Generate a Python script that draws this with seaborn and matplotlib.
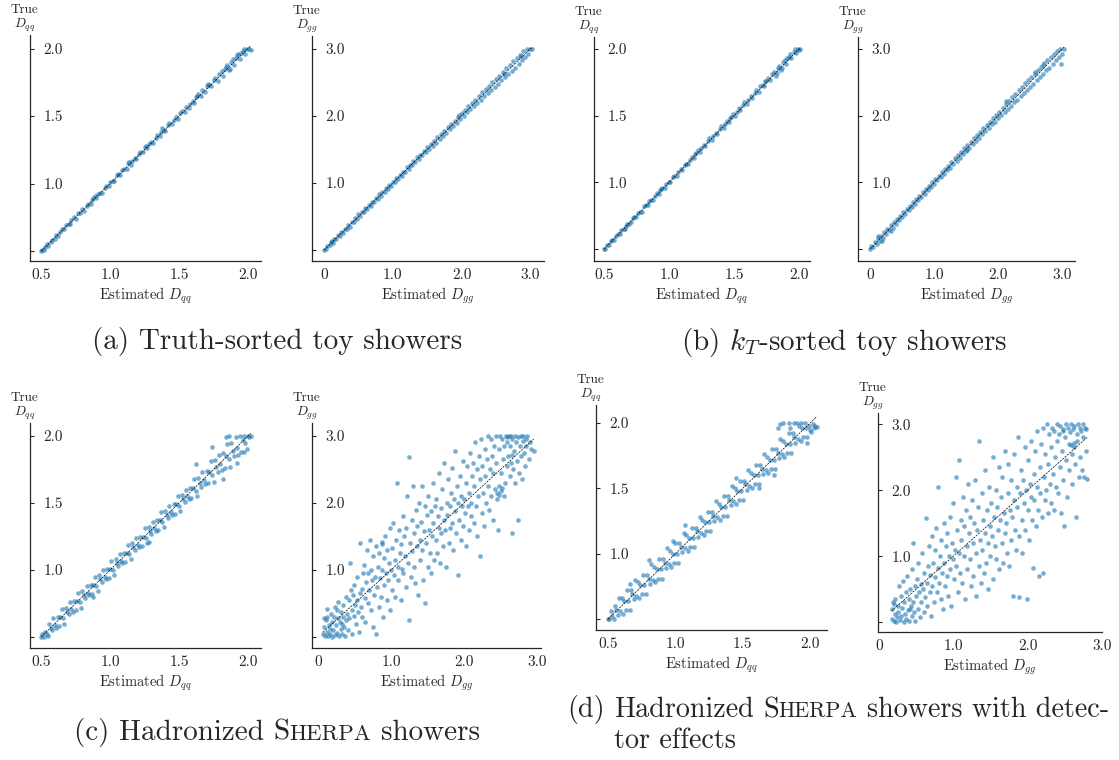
import numpy as np
import pandas as pd
import matplotlib
matplotlib.use("Agg")
import matplotlib.pyplot as plt
import seaborn as sns

# Оценка vs истина: пары (estimated, true)
a_qq = [(0.50,0.50),(0.51,0.51),(0.52,0.51),(0.53,0.53),(0.54,0.55),(0.55,0.54),(0.57,0.57),(0.58,0.58),(0.60,0.59),(0.61,0.62),(0.62,0.61),(0.64,0.64),(0.65,0.66),(0.67,0.66),(0.68,0.69),(0.70,0.70),(0.71,0.70),(0.72,0.73),(0.74,0.75),(0.75,0.74),(0.77,0.78),(0.78,0.78),(0.80,0.81),(0.81,0.80),(0.83,0.83),(0.84,0.85),(0.86,0.85),(0.87,0.88),(0.88,0.89),(0.90,0.89),(0.91,0.92),(0.93,0.93),(0.94,0.93),(0.96,0.97),(0.97,0.98),(0.99,0.98),(1.00,1.01),(1.02,1.02),(1.03,1.02),(1.05,1.06),(1.06,1.07),(1.07,1.06),(1.09,1.10),(1.10,1.11),(1.12,1.11),(1.13,1.15),(1.15,1.14),(1.16,1.17),(1.18,1.19),(1.19,1.18),(1.21,1.22),(1.22,1.23),(1.24,1.23),(1.25,1.27),(1.27,1.26),(1.28,1.29),(1.30,1.31),(1.31,1.30),(1.33,1.34),(1.34,1.36),(1.36,1.35),(1.37,1.38),(1.39,1.40),(1.40,1.39),(1.42,1.43),(1.43,1.45),(1.45,1.44),(1.46,1.47),(1.48,1.49),(1.49,1.48),(1.51,1.52),(1.52,1.54),(1.54,1.53),(1.55,1.57),(1.57,1.56),(1.58,1.59),(1.60,1.61),(1.61,1.60),(1.63,1.65),(1.64,1.66),(1.66,1.65),(1.67,1.69),(1.69,1.68),(1.70,1.72),(1.72,1.73),(1.73,1.72),(1.75,1.77),(1.76,1.78),(1.78,1.76),(1.79,1.81),(1.81,1.83),(1.82,1.80),(1.84,1.86),(1.85,1.88),(1.86,1.84),(1.88,1.90),(1.89,1.92),(1.90,1.88),(1.92,1.95),(1.93,1.96),(1.94,1.92),(1.96,1.98),(1.97,2.00),(1.98,1.96),(1.99,2.00),(2.01,2.00),(2.02,1.99),(1.87,1.85),(1.91,1.93),(1.95,1.97),(1.62,1.64),(1.38,1.41),(1.14,1.16),(0.89,0.91),(1.26,1.28),(1.71,1.74),(1.83,1.85)]

a_gg = [(0.00,0.00),(0.03,0.02),(0.05,0.06),(0.08,0.07),(0.10,0.12),(0.13,0.11),(0.15,0.17),(0.18,0.16),(0.20,0.22),(0.23,0.21),(0.25,0.27),(0.28,0.26),(0.30,0.32),(0.33,0.31),(0.35,0.37),(0.38,0.35),(0.40,0.42),(0.43,0.41),(0.45,0.47),(0.48,0.46),(0.50,0.53),(0.53,0.51),(0.55,0.57),(0.58,0.56),(0.60,0.62),(0.63,0.61),(0.65,0.67),(0.68,0.66),(0.70,0.72),(0.73,0.71),(0.75,0.77),(0.78,0.76),(0.80,0.83),(0.83,0.81),(0.85,0.87),(0.88,0.86),(0.90,0.92),(0.93,0.91),(0.95,0.97),(0.98,0.96),(1.00,1.02),(1.03,1.01),(1.05,1.07),(1.08,1.06),(1.10,1.12),(1.13,1.11),(1.15,1.17),(1.18,1.16),(1.20,1.23),(1.23,1.21),(1.25,1.27),(1.28,1.26),(1.30,1.32),(1.33,1.31),(1.35,1.38),(1.38,1.36),(1.40,1.42),(1.43,1.41),(1.45,1.47),(1.48,1.46),(1.50,1.53),(1.53,1.50),(1.55,1.58),(1.58,1.55),(1.60,1.63),(1.63,1.60),(1.65,1.68),(1.68,1.65),(1.70,1.73),(1.73,1.70),(1.75,1.78),(1.78,1.75),(1.80,1.83),(1.83,1.80),(1.85,1.88),(1.88,1.85),(1.90,1.93),(1.93,1.90),(1.95,1.99),(1.98,1.95),(2.00,2.04),(2.03,2.00),(2.05,2.09),(2.08,2.05),(2.10,2.14),(2.13,2.10),(2.15,2.19),(2.18,2.14),(2.20,2.24),(2.23,2.19),(2.25,2.30),(2.28,2.24),(2.30,2.35),(2.33,2.29),(2.35,2.40),(2.38,2.34),(2.40,2.45),(2.43,2.39),(2.45,2.50),(2.48,2.43),(2.50,2.55),(2.53,2.48),(2.55,2.60),(2.58,2.53),(2.60,2.66),(2.63,2.58),(2.65,2.71),(2.68,2.63),(2.70,2.76),(2.73,2.67),(2.75,2.81),(2.78,2.72),(2.80,2.86),(2.83,2.77),(2.85,2.91),(2.88,2.83),(2.90,2.96),(2.93,2.87),(2.95,3.00),(2.97,2.92),(3.00,3.00),(3.02,2.99),(2.87,2.89),(2.62,2.63),(1.97,2.01),(0.12,0.14)]

b_qq = [(0.50,0.50),(0.51,0.50),(0.52,0.53),(0.54,0.53),(0.55,0.56),(0.56,0.57),(0.58,0.57),(0.59,0.60),(0.61,0.61),(0.62,0.61),(0.63,0.64),(0.65,0.65),(0.66,0.65),(0.68,0.69),(0.69,0.69),(0.71,0.70),(0.72,0.73),(0.73,0.74),(0.75,0.74),(0.76,0.77),(0.78,0.78),(0.79,0.78),(0.81,0.82),(0.82,0.83),(0.84,0.83),(0.85,0.86),(0.86,0.87),(0.88,0.87),(0.89,0.90),(0.91,0.92),(0.92,0.91),(0.94,0.95),(0.95,0.96),(0.97,0.96),(0.98,0.99),(1.00,1.00),(1.01,1.00),(1.03,1.04),(1.04,1.05),(1.06,1.05),(1.07,1.08),(1.09,1.10),(1.10,1.09),(1.12,1.13),(1.13,1.14),(1.15,1.14),(1.16,1.17),(1.18,1.19),(1.19,1.18),(1.21,1.22),(1.22,1.24),(1.24,1.23),(1.25,1.26),(1.27,1.28),(1.28,1.27),(1.30,1.31),(1.31,1.33),(1.33,1.32),(1.34,1.35),(1.36,1.37),(1.37,1.36),(1.39,1.40),(1.40,1.42),(1.42,1.41),(1.43,1.44),(1.45,1.46),(1.46,1.45),(1.48,1.49),(1.49,1.51),(1.51,1.50),(1.52,1.53),(1.54,1.56),(1.55,1.54),(1.57,1.58),(1.58,1.60),(1.60,1.59),(1.61,1.62),(1.63,1.65),(1.64,1.63),(1.66,1.67),(1.67,1.69),(1.69,1.68),(1.70,1.72),(1.72,1.73),(1.73,1.72),(1.75,1.76),(1.76,1.78),(1.78,1.77),(1.79,1.81),(1.81,1.83),(1.82,1.80),(1.84,1.86),(1.85,1.87),(1.86,1.84),(1.88,1.90),(1.89,1.92),(1.90,1.89),(1.92,1.94),(1.93,1.96),(1.94,1.93),(1.96,1.98),(1.97,2.00),(1.98,1.97),(1.99,2.00),(2.00,1.99),(2.01,2.00),(1.87,1.86),(1.91,1.93),(1.83,1.82),(1.74,1.76),(1.47,1.48),(1.20,1.21),(0.93,0.94),(0.67,0.67)]

b_gg = [(0.00,0.00),(0.02,0.04),(0.05,0.03),(0.07,0.10),(0.10,0.08),(0.12,0.16),(0.15,0.12),(0.17,0.20),(0.20,0.17),(0.22,0.26),(0.25,0.22),(0.27,0.30),(0.30,0.28),(0.32,0.36),(0.35,0.32),(0.37,0.40),(0.40,0.38),(0.42,0.45),(0.45,0.43),(0.47,0.50),(0.50,0.48),(0.52,0.55),(0.55,0.53),(0.57,0.60),(0.60,0.58),(0.62,0.65),(0.65,0.63),(0.67,0.70),(0.70,0.68),(0.72,0.75),(0.75,0.73),(0.77,0.80),(0.80,0.78),(0.82,0.85),(0.85,0.83),(0.87,0.90),(0.90,0.88),(0.92,0.95),(0.95,0.93),(0.97,1.00),(1.00,0.98),(1.02,1.05),(1.05,1.03),(1.07,1.10),(1.10,1.08),(1.12,1.15),(1.15,1.12),(1.17,1.20),(1.20,1.18),(1.22,1.25),(1.25,1.22),(1.27,1.31),(1.30,1.27),(1.32,1.36),(1.35,1.32),(1.37,1.41),(1.40,1.37),(1.42,1.46),(1.45,1.42),(1.47,1.51),(1.50,1.47),(1.52,1.56),(1.55,1.52),(1.57,1.61),(1.60,1.57),(1.62,1.66),(1.65,1.62),(1.67,1.71),(1.70,1.67),(1.72,1.76),(1.75,1.72),(1.77,1.81),(1.80,1.77),(1.82,1.86),(1.85,1.82),(1.87,1.91),(1.90,1.87),(1.92,1.96),(1.95,1.91),(1.97,2.01),(2.00,1.96),(2.02,2.06),(2.05,2.01),(2.07,2.12),(2.10,2.06),(2.12,2.17),(2.15,2.10),(2.17,2.22),(2.20,2.15),(2.22,2.28),(2.25,2.20),(2.27,2.33),(2.30,2.24),(2.32,2.38),(2.35,2.29),(2.37,2.43),(2.40,2.34),(2.42,2.49),(2.45,2.39),(2.47,2.54),(2.50,2.43),(2.52,2.58),(2.55,2.48),(2.57,2.63),(2.60,2.53),(2.62,2.69),(2.65,2.58),(2.67,2.73),(2.70,2.62),(2.72,2.79),(2.75,2.68),(2.77,2.83),(2.80,2.72),(2.82,2.88),(2.85,2.77),(2.87,2.93),(2.90,2.83),(2.92,2.97),(2.95,2.88),(2.97,3.00),(3.00,2.93),(3.03,3.00),(2.98,2.78),(2.70,2.76),(2.58,2.66),(2.12,2.22),(1.52,1.49),(0.13,0.20),(0.18,0.12),(0.33,0.27)]

c_qq = [(0.50,0.50),(0.51,0.52),(0.52,0.50),(0.53,0.54),(0.54,0.52),(0.55,0.51),(0.56,0.60),(0.57,0.57),(0.58,0.55),(0.59,0.64),(0.60,0.59),(0.61,0.57),(0.62,0.65),(0.63,0.58),(0.64,0.65),(0.65,0.71),(0.66,0.64),(0.67,0.60),(0.68,0.72),(0.69,0.69),(0.70,0.67),(0.71,0.76),(0.72,0.71),(0.73,0.69),(0.74,0.77),(0.75,0.70),(0.76,0.77),(0.77,0.83),(0.78,0.76),(0.79,0.72),(0.80,0.84),(0.81,0.81),(0.82,0.79),(0.83,0.88),(0.84,0.83),(0.85,0.81),(0.86,0.89),(0.87,0.82),(0.88,0.89),(0.89,0.95),(0.90,0.88),(0.91,0.84),(0.92,0.96),(0.93,0.93),(0.94,0.91),(0.95,1.00),(0.96,0.95),(0.97,0.93),(0.98,1.01),(0.99,0.94),(1.00,1.01),(1.01,1.07),(1.02,1.00),(1.03,0.96),(1.04,1.08),(1.05,1.05),(1.06,1.03),(1.07,1.12),(1.08,1.07),(1.09,1.05),(1.10,1.13),(1.11,1.06),(1.12,1.13),(1.13,1.19),(1.14,1.12),(1.15,1.08),(1.16,1.20),(1.17,1.17),(1.18,1.15),(1.19,1.24),(1.20,1.19),(1.21,1.17),(1.22,1.25),(1.23,1.18),(1.24,1.25),(1.25,1.31),(1.26,1.24),(1.27,1.20),(1.28,1.32),(1.29,1.29),(1.30,1.27),(1.31,1.36),(1.32,1.31),(1.33,1.29),(1.34,1.37),(1.35,1.30),(1.36,1.37),(1.37,1.43),(1.38,1.36),(1.39,1.32),(1.40,1.44),(1.41,1.41),(1.42,1.39),(1.43,1.48),(1.44,1.43),(1.45,1.41),(1.46,1.49),(1.47,1.42),(1.48,1.49),(1.49,1.55),(1.50,1.48),(1.51,1.44),(1.52,1.56),(1.53,1.53),(1.54,1.51),(1.55,1.60),(1.56,1.55),(1.57,1.53),(1.58,1.61),(1.59,1.54),(1.60,1.61),(1.61,1.68),(1.62,1.59),(1.63,1.55),(1.64,1.69),(1.65,1.65),(1.66,1.62),(1.67,1.73),(1.68,1.67),(1.69,1.64),(1.70,1.74),(1.71,1.65),(1.72,1.73),(1.73,1.81),(1.74,1.71),(1.75,1.66),(1.76,1.82),(1.77,1.77),(1.78,1.73),(1.79,1.86),(1.80,1.79),(1.81,1.75),(1.82,1.87),(1.83,1.76),(1.84,1.85),(1.85,1.94),(1.86,1.83),(1.87,1.77),(1.88,1.95),(1.89,1.89),(1.90,1.85),(1.91,1.99),(1.92,1.91),(1.93,1.86),(1.94,2.00),(1.95,1.88),(1.96,1.97),(1.97,2.00),(1.98,1.95),(1.99,1.90),(2.00,2.00),(2.01,1.99),(2.02,2.00),(1.86,2.00),(1.84,1.99),(1.74,1.92),(1.62,1.79),(1.82,1.68),(1.92,1.80),(1.97,1.88),(1.28,1.21),(0.88,0.80)]

c_gg = [(0.07,0.05),(0.09,0.15),(0.10,0.02),(0.11,0.25),(0.12,0.08),(0.13,0.30),(0.14,0.01),(0.15,0.18),(0.16,0.12),(0.17,0.04),(0.18,0.35),(0.19,0.22),(0.20,0.00),(0.08,0.28),(0.12,0.42),
        (0.21,0.10),(0.22,0.30),(0.23,0.03),(0.24,0.45),(0.25,0.18),(0.26,0.06),(0.27,0.28),(0.28,0.52),(0.29,0.01),(0.30,0.22),(0.31,0.12),(0.32,0.38),(0.33,0.05),(0.34,0.30),(0.35,0.48),(0.36,0.15),(0.37,0.02),(0.38,0.60),(0.39,0.26),(0.40,0.35),(0.26,0.40),(0.33,0.20),
        (0.41,0.10),(0.42,0.55),(0.43,0.28),(0.44,1.10),(0.45,0.70),(0.46,0.40),(0.47,0.05),(0.48,0.62),(0.49,0.32),(0.50,0.78),(0.51,0.48),(0.52,0.20),(0.53,0.55),(0.54,0.90),(0.55,0.38),(0.56,0.08),(0.57,0.65),(0.58,1.40),(0.59,0.45),(0.60,0.72),
        (0.61,0.30),(0.62,0.95),(0.63,1.08),(0.64,0.58),(0.65,0.22),(0.66,0.82),(0.67,1.30),(0.68,0.50),(0.69,0.95),(0.70,0.70),(0.71,1.45),(0.72,0.40),(0.73,1.00),(0.74,0.85),(0.75,0.15),(0.76,1.20),(0.77,0.62),(0.78,0.90),(0.79,1.35),(0.80,0.05),(0.81,0.75),
        (0.82,1.05),(0.83,0.45),(0.84,1.25),(0.85,0.88),(0.86,0.60),(0.87,1.38),(0.88,1.00),(0.89,0.30),(0.90,1.18),(0.91,0.78),(0.92,1.50),(0.93,0.95),(0.94,0.55),(0.95,1.30),(0.96,0.85),(0.97,1.10),(0.98,0.40),(0.99,1.62),(1.00,1.00),(0.88,1.42),
        (1.01,0.70),(1.02,1.32),(1.03,1.70),(1.04,0.92),(1.05,1.15),(1.06,0.60),(1.07,1.45),(1.08,2.30),(1.09,1.05),(1.10,0.85),(1.11,1.60),(1.12,1.25),(1.13,0.55),(1.14,1.38),(1.15,1.02),(1.16,1.80),(1.17,0.95),(1.18,1.50),(1.19,1.20),(1.20,0.75),
        (1.21,1.62),(1.22,2.10),(1.23,1.10),(1.24,0.25),(1.25,2.68),(1.26,1.40),(1.27,0.90),(1.28,1.75),(1.29,1.28),(1.30,2.25),(1.31,1.05),(1.32,1.55),(1.33,0.80),(1.34,1.90),(1.35,1.35),(1.36,1.65),(1.37,0.62),(1.38,2.00),(1.39,1.45),(1.40,1.15),
        (1.41,1.72),(1.42,2.25),(1.43,1.30),(1.44,0.85),(1.45,1.58),(1.46,1.95),(1.47,0.50),(1.48,1.40),(1.49,1.82),(1.50,1.05),(1.51,2.10),(1.52,1.60),(1.53,1.25),(1.54,1.88),(1.55,0.95),(1.56,1.50),(1.57,2.30),(1.58,1.70),(1.59,1.15),(1.60,1.95),
        (1.61,1.45),(1.62,2.05),(1.63,1.25),(1.64,1.80),(1.65,1.62),(1.66,2.45),(1.67,1.10),(1.68,1.92),(1.69,1.55),(1.70,2.20),(1.71,1.35),(1.72,1.75),(1.73,2.60),(1.74,1.60),(1.75,1.05),(1.76,2.00),(1.77,1.82),(1.78,2.35),(1.79,1.40),(1.80,1.95),
        (1.81,1.62),(1.82,2.15),(1.83,2.52),(1.84,1.70),(1.85,1.30),(1.86,2.05),(1.87,1.88),(1.88,2.78),(1.89,1.55),(1.90,2.25),(1.91,0.92),(1.92,2.00),(1.93,1.75),(1.94,2.40),(1.95,1.45),(1.96,2.10),(1.97,1.95),(1.98,2.62),(1.99,1.65),(2.00,2.05),
        (2.01,1.85),(2.02,2.30),(2.03,1.35),(2.04,2.55),(2.05,1.95),(2.06,2.15),(2.07,1.60),(2.08,2.75),(2.09,2.00),(2.10,1.80),(2.11,2.40),(2.12,2.60),(2.13,1.70),(2.14,2.25),(2.15,2.90),(2.16,1.95),(2.17,2.50),(2.18,1.50),(2.19,2.10),(2.20,2.70),(2.21,1.20),
        (2.22,2.35),(2.23,2.95),(2.24,1.85),(2.25,2.55),(2.26,2.15),(2.27,1.65),(2.28,2.80),(2.29,2.40),(2.30,2.00),(2.31,2.65),(2.32,3.00),(2.33,2.25),(2.34,1.90),(2.35,2.50),(2.36,2.95),(2.37,2.10),(2.38,2.70),(2.39,1.75),(2.40,2.45),
        (2.41,2.85),(2.42,2.20),(2.43,3.00),(2.44,2.60),(2.45,2.15),(2.46,1.60),(2.47,2.80),(2.48,2.25),(2.49,3.00),(2.50,2.45),(2.51,2.18),(2.52,2.95),(2.53,2.65),(2.54,2.10),(2.55,2.85),(2.56,2.30),(2.57,3.00),(2.58,2.55),(2.59,2.90),(2.60,2.70),(2.48,2.12),(2.52,2.22),(2.45,2.05),
        (2.61,3.00),(2.62,2.40),(2.63,2.85),(2.64,2.60),(2.65,1.55),(2.66,2.95),(2.67,2.50),(2.68,2.78),(2.69,3.00),(2.70,2.30),(2.71,2.90),(2.72,2.62),(2.73,1.75),(2.74,2.98),(2.75,2.45),(2.76,2.85),(2.77,3.00),(2.78,2.70),(2.79,2.35),(2.80,2.92),
        (2.81,3.00),(2.82,2.75),(2.83,2.55),(2.84,2.95),(2.85,2.85),(2.86,3.00),(2.88,2.65),(2.90,2.90),(2.92,2.80),(2.95,2.78),(2.66,2.72),(2.58,2.98),(2.64,2.99)]

d_qq = [(0.50,0.50),(0.51,0.50),(0.52,0.56),(0.53,0.52),(0.54,0.50),(0.55,0.60),(0.56,0.57),(0.57,0.53),(0.58,0.66),(0.59,0.56),(0.60,0.66),(0.61,0.54),(0.62,0.64),(0.63,0.57),(0.64,0.72),(0.65,0.64),(0.66,0.57),(0.67,0.72),(0.68,0.69),(0.69,0.65),(0.70,0.80),(0.71,0.68),(0.72,0.78),(0.73,0.66),(0.74,0.76),(0.75,0.69),(0.76,0.84),(0.77,0.76),(0.78,0.69),(0.79,0.84),(0.80,0.81),(0.81,0.77),(0.82,0.92),(0.83,0.80),(0.84,0.90),(0.85,0.78),(0.86,0.88),(0.87,0.81),(0.88,0.96),(0.89,0.88),(0.90,0.81),(0.91,0.96),(0.92,0.93),(0.93,0.89),(0.94,1.04),(0.95,0.92),(0.96,1.02),(0.97,0.90),(0.98,1.00),(0.99,0.93),(1.00,1.08),(1.01,1.00),(1.02,0.93),(1.03,1.08),(1.04,1.05),(1.05,1.01),(1.06,1.16),(1.07,1.04),(1.08,1.14),(1.09,1.02),(1.10,1.12),(1.11,1.05),(1.12,1.20),(1.13,1.12),(1.14,1.05),(1.15,1.20),(1.16,1.17),(1.17,1.13),(1.18,1.28),(1.19,1.16),(1.20,1.26),(1.21,1.14),(1.22,1.24),(1.23,1.17),(1.24,1.32),(1.25,1.24),(1.26,1.17),(1.27,1.32),(1.28,1.29),(1.29,1.25),(1.30,1.40),(1.31,1.28),(1.32,1.38),(1.33,1.26),(1.34,1.36),(1.35,1.29),(1.36,1.44),(1.37,1.36),(1.38,1.29),(1.39,1.44),(1.40,1.41),(1.41,1.37),(1.42,1.52),(1.43,1.40),(1.44,1.50),(1.45,1.38),(1.46,1.48),(1.47,1.41),(1.48,1.56),(1.49,1.48),(1.50,1.41),(1.51,1.56),(1.52,1.53),(1.53,1.49),(1.54,1.64),(1.55,1.52),(1.56,1.62),(1.57,1.50),(1.58,1.60),(1.59,1.53),(1.60,1.68),(1.61,1.60),(1.62,1.53),(1.63,1.68),(1.64,1.65),(1.65,1.61),(1.66,1.76),(1.67,1.64),(1.68,1.74),(1.69,1.62),(1.70,1.72),(1.71,1.65),(1.72,1.80),(1.73,1.72),(1.74,1.65),(1.75,1.80),(1.76,1.77),(1.77,1.73),(1.78,1.88),(1.79,1.76),(1.80,1.86),(1.81,1.74),(1.82,1.84),(1.83,1.77),(1.84,1.92),(1.85,1.84),(1.86,1.77),(1.87,1.92),(1.88,1.89),(1.89,1.85),(1.90,2.00),(1.91,1.88),(1.92,1.98),(1.93,1.86),(1.94,1.96),(1.95,1.89),(1.96,2.00),(1.97,1.96),(1.98,1.89),(1.99,1.98),(2.00,1.95),(2.01,1.93),(2.02,1.99),(2.03,1.96),(2.04,1.98),(2.05,1.97),(1.80,2.00),(1.84,2.00),(1.88,2.00),(1.93,2.00),(1.76,1.96),(1.85,1.96),(1.78,1.99),(1.98,1.85),(1.73,1.60),(1.62,1.50),(1.07,1.22),(0.98,1.10),(0.80,0.95),(1.45,1.58),(0.66,0.77)]

d_gg = [(0.17,0.20),(0.18,0.05),(0.19,0.30),(0.20,0.02),(0.21,0.12),(0.22,0.35),(0.23,0.00),(0.24,0.08),(0.25,0.25),(0.26,0.15),(0.27,0.55),(0.28,0.03),(0.29,0.40),(0.30,0.10),(0.20,0.28),
        (0.31,0.22),(0.32,0.62),(0.33,0.00),(0.34,0.30),(0.35,0.12),(0.36,0.45),(0.37,0.05),(0.38,0.70),(0.39,0.18),(0.40,0.35),(0.41,0.02),(0.42,0.50),(0.43,0.25),(0.44,0.10),(0.45,0.80),(0.46,0.30),(0.47,0.15),(0.48,0.55),(0.49,0.01),(0.50,0.40),(0.46,1.20),(0.42,0.20),
        (0.51,0.65),(0.52,0.20),(0.53,0.90),(0.54,0.45),(0.55,0.08),(0.56,0.58),(0.57,0.30),(0.58,1.05),(0.59,0.50),(0.60,0.15),(0.61,0.75),(0.62,0.38),(0.63,1.58),(0.64,0.60),(0.65,0.25),(0.66,0.85),(0.67,1.15),(0.68,0.45),(0.69,0.72),(0.70,0.10),(0.71,1.30),
        (0.72,0.55),(0.73,0.90),(0.74,0.30),(0.75,1.10),(0.76,0.68),(0.77,1.42),(0.78,0.45),(0.79,0.82),(0.80,2.05),(0.81,0.60),(0.82,1.00),(0.83,0.35),(0.84,1.25),(0.85,0.75),(0.86,0.20),(0.87,1.50),(0.88,0.90),(0.89,0.55),(0.90,1.15),(0.91,0.70),
        (0.92,1.35),(0.93,0.40),(0.94,1.00),(0.95,1.60),(0.96,0.80),(0.97,0.25),(0.98,1.20),(0.99,0.95),(1.00,1.80),(1.01,0.65),(1.02,1.10),(1.03,2.20),(1.04,0.85),(1.05,1.40),(1.06,0.45),(1.07,2.45),(1.08,1.05),(1.09,0.75),(1.10,1.55),
        (1.11,1.25),(1.12,0.60),(1.13,1.90),(1.14,1.00),(1.15,1.45),(1.16,0.35),(1.17,1.70),(1.18,1.15),(1.19,0.80),(1.20,2.10),(1.21,1.35),(1.22,0.95),(1.23,1.60),(1.24,0.55),(1.25,1.85),(1.26,1.20),(1.27,0.70),(1.28,1.50),(1.29,2.15),(1.30,1.05),
        (1.31,0.40),(1.32,1.40),(1.33,1.75),(1.34,0.85),(1.35,2.75),(1.36,1.25),(1.37,0.60),(1.38,1.95),(1.39,1.10),(1.40,1.55),(1.41,0.75),(1.42,2.30),(1.43,1.35),(1.44,0.90),(1.45,1.70),(1.46,1.20),(1.47,0.50),(1.48,2.05),(1.49,1.45),(1.50,1.00),
        (1.51,1.80),(1.52,1.30),(1.53,2.50),(1.54,0.65),(1.55,1.60),(1.56,1.15),(1.57,2.00),(1.58,0.95),(1.59,1.75),(1.60,1.40),(1.61,2.35),(1.62,0.80),(1.63,1.55),(1.64,1.90),(1.65,1.20),(1.66,2.20),(1.67,0.90),(1.68,1.65),(1.69,1.35),(1.70,2.60),
        (1.71,1.50),(1.72,1.05),(1.73,1.95),(1.74,2.40),(1.75,0.85),(1.76,1.70),(1.77,1.25),(1.78,2.15),(1.79,1.60),(1.80,0.40),(1.81,1.85),(1.82,2.55),(1.83,1.40),(1.84,1.10),(1.85,2.05),(1.86,1.75),(1.87,2.80),(1.88,1.30),(1.89,0.38),(1.90,1.95),
        (1.91,2.30),(1.92,1.55),(1.93,1.05),(1.94,2.15),(1.95,1.80),(1.96,2.65),(1.97,1.40),(1.98,2.00),(1.99,0.35),(2.00,1.70),(2.01,2.45),(2.02,1.25),(2.03,2.10),(2.04,1.90),(2.05,2.75),(2.06,1.55),(2.07,0.82),(2.08,2.25),(2.09,1.85),(2.10,2.60),
        (2.11,1.45),(2.12,2.05),(2.13,2.90),(2.14,1.70),(2.15,0.70),(2.16,2.35),(2.17,1.95),(2.18,2.70),(2.19,1.60),(2.20,2.95),(2.21,0.75),(2.22,2.20),(2.23,1.85),(2.24,2.55),(2.25,2.00),(2.26,3.00),(2.27,1.65),(2.28,2.40),(2.29,2.85),(2.30,2.10),
        (2.31,1.80),(2.32,2.65),(2.33,2.95),(2.34,2.25),(2.35,1.70),(2.36,2.90),(2.37,2.50),(2.38,2.05),(2.39,3.00),(2.40,2.75),(2.41,1.95),(2.42,2.85),(2.43,2.35),(2.44,2.98),(2.45,1.65),(2.46,2.60),(2.47,2.92),(2.48,2.15),(2.49,1.45),(2.50,2.80),
        (2.51,3.00),(2.52,2.45),(2.53,1.90),(2.54,2.95),(2.55,2.70),(2.56,2.30),(2.57,2.88),(2.58,3.00),(2.59,2.55),(2.60,2.10),(2.61,2.92),(2.62,2.65),(2.63,2.98),(2.64,2.40),(2.65,1.60),(2.66,2.85),(2.67,2.75),(2.68,3.00),(2.69,2.20),(2.70,2.95),(2.71,2.50),(2.72,2.90),(2.73,2.30),(2.74,3.00),(2.75,2.80),(2.76,2.20),(2.77,2.95),(2.78,2.60),(2.79,2.92),(2.80,2.17),(2.62,2.72),(2.58,2.68),(2.48,2.90)]

qq_ticks = [0.5, 1.0, 1.5, 2.0]
qq_xlabels = ["0.5", "1.0", "1.5", "2.0"]
qq_ylabels = ["", "1.0", "1.5", "2.0"]
gg_ticks = [0, 1, 2, 3]
gg_xlabels = ["0", "1.0", "2.0", "3.0"]
gg_ylabels = ["", "1.0", "2.0", "3.0"]

sns.set_style("ticks")
plt.rcParams["font.family"] = ["serif"]
plt.rcParams["font.serif"] = ["cmr10", "DejaVu Serif"]
plt.rcParams["mathtext.fontset"] = "cm"
plt.rcParams["axes.formatter.use_mathtext"] = True
plt.rcParams["axes.unicode_minus"] = False

W, H = 1119, 760
fig = plt.figure(figsize=(W / 100, H / 100), dpi=100)
blue = sns.color_palette()[0]


def px_rect(x0, x1, y0, y1):
    # пиксели (слева, справа, верх, низ) -> доли фигуры
    return [x0 / W, 1 - y1 / H, (x1 - x0) / W, (y1 - y0) / H]


# (данные, тип, прямоугольник осей, xlim, ylim)
panels = [
    (a_qq, "qq", px_rect(30, 261, 35, 261), (0.42, 2.094), (0.426, 2.10)),
    (a_gg, "gg", px_rect(312, 544, 36, 261), (-0.175, 3.20), (-0.164, 3.19)),
    (b_qq, "qq", px_rect(594, 810, 37, 261), (0.423, 2.085), (0.41, 2.09)),
    (b_gg, "gg", px_rect(858, 1075, 37, 261), (-0.19, 3.20), (-0.18, 3.18)),
    (c_qq, "qq", px_rect(30, 261, 423, 648), (0.42, 2.094), (0.418, 2.097)),
    (c_gg, "gg", px_rect(312, 541, 423, 648), (-0.08, 3.05), (-0.164, 3.19)),
    (d_qq, "qq", px_rect(596, 827, 405, 630), (0.41, 2.126), (0.416, 2.138)),
    (d_gg, "gg", px_rect(878, 1102, 413, 632), (-0.013, 3.0), (-0.15, 3.17)),
]

for pts, kind, rect, xlim, ylim in panels:
    ax = fig.add_axes(rect)
    df = pd.DataFrame(pts, columns=["est", "true"])
    sns.scatterplot(data=df, x="est", y="true", ax=ax, s=11, alpha=0.6,
                    linewidth=0, color=blue)
    lo, hi = df["est"].min(), df["est"].max()
    ax.plot([lo, hi], [lo, hi], color="k", lw=0.5, ls=(0, (3, 1.5)))
    ax.set_xlim(*xlim)
    ax.set_ylim(*ylim)
    if kind == "qq":
        ticks, xl, yl, sub = qq_ticks, qq_xlabels, qq_ylabels, "qq"
    else:
        ticks, xl, yl, sub = gg_ticks, gg_xlabels, gg_ylabels, "gg"
    ax.set_xticks(ticks)
    ax.set_xticklabels(xl)
    ax.set_yticks(ticks)
    ax.set_yticklabels(yl, ha="left")
    ax.tick_params(axis="x", length=0, pad=5, labelsize=11)
    ax.tick_params(axis="y", direction="in", length=3, width=0.8, pad=-9.5, labelsize=11)
    ax.set_xlabel(f"Estimated $D_{{{sub}}}$", fontsize=10.5, labelpad=3)
    ax.set_ylabel("")
    ax.annotate(f"True\n$D_{{{sub}}}$", xy=(0, 1), xycoords="axes fraction",
                xytext=(-4, 1), textcoords="offset points", ha="center",
                va="bottom", fontsize=9.5, linespacing=1.0)
    for s in ["left", "bottom"]:
        ax.spines[s].set_linewidth(0.9)
    sns.despine(ax=ax)

renderer = fig.canvas.get_renderer()


def caption(pieces, x_px, y_px, center=False, size=21, max_w=None):
    # pieces: (текст, масштаб шрифта, пробел перед); при нехватке места шрифт уменьшается
    while True:
        space = 0.333 * size * 100 / 72
        placed = []
        x = 0.0
        for txt, scale, gap in pieces:
            x += space if gap else 0
            t = fig.text(0, 1 - y_px / H, txt, fontsize=size * scale,
                         va="baseline", ha="left")
            w = t.get_window_extent(renderer=renderer).width
            placed.append((t, x))
            x += w
        if max_w is None or x <= max_w:
            break
        for t, _ in placed:
            t.remove()
        size = size * max_w / x * 0.995
    start = x_px - x / 2 if center else x_px
    for t, off in placed:
        t.set_x((start + off) / W)
    return start, placed, size


caption([("(a) Truth-sorted toy showers", 1, False)], 277, 349, center=True)
caption([("(b) $k_T$-sorted toy showers", 1, False)], 844, 350, center=True)
caption([("(c) Hadronized", 1, False), ("S", 1, True), ("HERPA", 0.78, False),
         ("showers", 1, True)], 277, 740, center=True)
start, placed, dsize = caption([("(d)", 1, False), ("Hadronized", 1, True), ("S", 1, True),
                                ("HERPA", 0.78, False), ("showers with detec-", 1, True)],
                               567, 717, max_w=545)
fig.text((start + placed[1][1]) / W, 1 - 748 / H, "tor effects", fontsize=dsize,
         va="baseline", ha="left")

fig.savefig("out.png", dpi=100)
